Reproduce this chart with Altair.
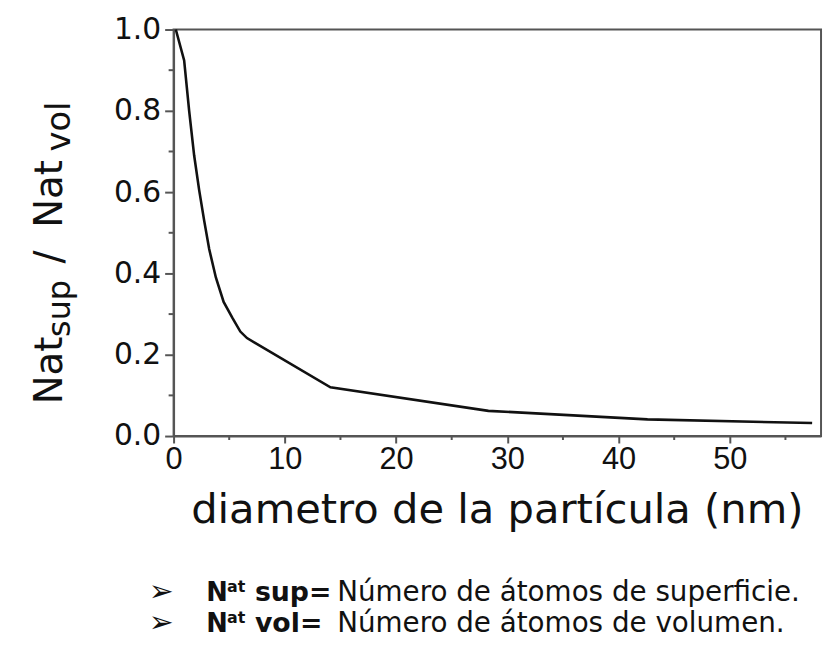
import altair as alt
import pandas as pd

# ---- data ----
diametro = [0.2, 0.95, 1.4, 1.85, 2.3, 2.75, 3.2, 3.8, 4.5, 5.3, 6.0, 6.6, 14.1, 28.3, 42.6, 57.4]
ratio = [1.0, 0.924, 0.80, 0.69, 0.605, 0.53, 0.46, 0.39, 0.33, 0.29, 0.257, 0.241, 0.12, 0.062, 0.041, 0.032]

x_major = [0, 10, 20, 30, 40, 50]
x_minor = [5, 15, 25, 35, 45, 55]
y_major = [0.0, 0.2, 0.4, 0.6, 0.8, 1.0]
y_minor = [0.1, 0.3, 0.5, 0.7, 0.9]

x_title = "diametro de la partícula (nm)"
bullet_sym = "➢"
line1_bold = "sup="
line1_text = "Número de átomos de superficie."
line2_bold = "vol="
line2_text = "Número de átomos de volumen."

W, H = 653, 410
AX = "#555555"
TXT = "#111111"

df = pd.DataFrame({"d": diametro, "v": ratio})
xs = alt.Scale(domain=[0, 58.2], nice=False, zero=False)
ys = alt.Scale(domain=[0, 1.0], nice=False)

line = alt.Chart(df).mark_line(color=TXT, strokeWidth=2.6).encode(
    x=alt.X("d:Q", scale=xs, axis=alt.Axis(
        values=x_major, format="d", title="", grid=False,
        labelFont="Liberation Sans", labelFontSize=31, labelColor=TXT,
        labelPadding=2, tickSize=7, tickWidth=2, tickColor=AX,
        domainColor=AX, domainWidth=2, labelFlush=False)),
    y=alt.Y("v:Q", scale=ys, axis=alt.Axis(
        values=y_major, format=".1f", title="", grid=False,
        labelFont="DejaVu Sans", labelFontSize=30, labelColor=TXT,
        labelPadding=4, tickSize=9, tickWidth=2, tickColor=AX,
        domainColor=AX, domainWidth=2, labelFlush=False)),
)

xminor = alt.Chart(pd.DataFrame({"d": x_minor})).mark_rule(color=AX, strokeWidth=2).encode(
    x=alt.X("d:Q", scale=xs),
    y=alt.value(H), y2=alt.value(H + 4),
)
yminor = alt.Chart(pd.DataFrame({"v": y_minor})).mark_rule(color=AX, strokeWidth=2).encode(
    y=alt.Y("v:Q", scale=ys),
    x=alt.value(0), x2=alt.value(-5),
)

one = pd.DataFrame({"k": [0]})


def txt(text, px, py, size, font="DejaVu Sans", weight="normal", angle=0, align="left"):
    return alt.Chart(one).mark_text(
        text=text, font=font, fontSize=size, fontWeight=weight, angle=angle,
        align=align, baseline="alphabetic", color=TXT,
    ).encode(x=alt.value(px), y=alt.value(py))


# y-axis title with subscripts (rotated)
ytitle = [
    txt("Nat", -113, 378, 39, angle=270),
    txt("sup", -104, 310, 32, angle=270),
    txt("/", -113, 236, 39, angle=270),
    txt("Nat", -113, 200, 39, angle=270),
    txt("vol", -104, 123, 34, angle=270),
]

xtitle = [txt(x_title, W / 2, 498, 42, align="center")]

b1, b2 = 576, 608
bullets = [
    txt(bullet_sym, -25, b1, 30),
    txt("N", 33, b1, 26, weight="bold"),
    txt("at", 54, b1 - 9, 16, weight="bold"),
    txt(line1_bold, 82, b1, 27, weight="bold"),
    txt(line1_text, 165, b1, 28),
    txt(bullet_sym, -25, b2, 30),
    txt("N", 33, b2, 26, weight="bold"),
    txt("at", 54, b2 - 9, 16, weight="bold"),
    txt(line2_bold, 82, b2, 27, weight="bold"),
    txt(line2_text, 165, b2, 28),
]

chart = alt.layer(line, xminor, yminor, *ytitle, *xtitle, *bullets).properties(
    width=W, height=H,
    autosize=alt.AutoSizeParams(type="none"),
    padding={"left": 167, "top": 19, "right": 4, "bottom": 205},
).configure_view(stroke=AX, strokeWidth=2)

chart.save("out.html", embed_options={"renderer": "svg", "actions": False})
